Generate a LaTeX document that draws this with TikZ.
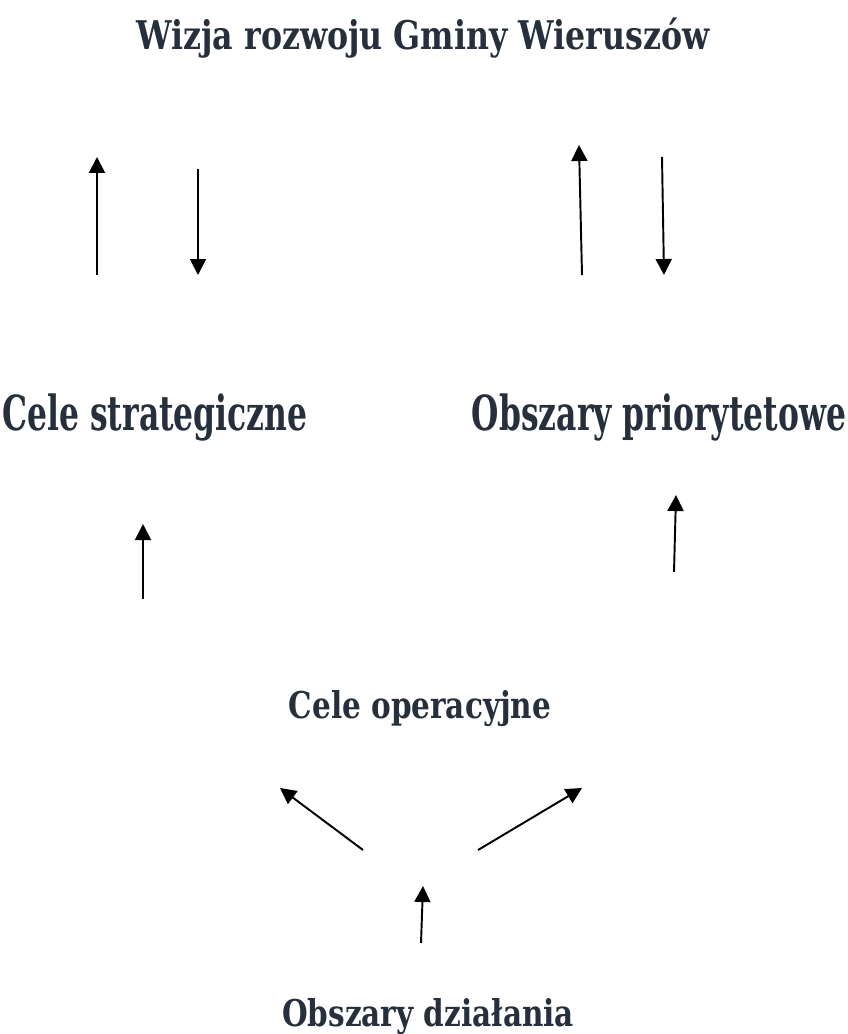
\documentclass[tikz,border=0pt]{standalone}
\usepackage{fontspec}
\usepackage{tikz}
\usetikzlibrary{positioning,arrows.meta}
\newfontfamily\wideserif[FakeStretch=0.8]{DejaVu Serif}
\newfontfamily\narrowserif[FakeStretch=0.65]{DejaVu Serif}
\definecolor{slatetext}{RGB}{38,48,60}

\begin{document}
\begin{tikzpicture}[x=0.02cm,y=-0.02cm,
	label/.style={text=slatetext,inner sep=0pt,anchor=base,font=\wideserif\bfseries\fontsize{21}{24}\selectfont},
	sidelabel/.style={label,font=\narrowserif\bfseries\fontsize{27.5}{30}\selectfont},
	link/.style={line width=1.1pt,-{Triangle[length=0.32cm,width=0.32cm]}}]
			\useasboundingbox (0,0) rectangle (848,1034);
			\node [label,font=\wideserif\bfseries\fontsize{22.5}{26}\selectfont] (vision) at (423,50) {Wizja rozwoju Gminy Wieruszów};
			\node [sidelabel] (strategic) at (155,430) {Cele strategiczne};
			\node [sidelabel] (priority) at (659,430) {Obszary priorytetowe};
			\node [label] (operational) at (420,718) {Cele operacyjne};
			\node [label] (action) at (428,1026) {Obszary działania};
			\coordinate (s1) at (97,275);   \coordinate (v1) at (97,157);
			\coordinate (v2) at (198,169);  \coordinate (s2) at (198,275);
			\coordinate (p1) at (582,275);  \coordinate (v3) at (579,145);
			\coordinate (v4) at (662,157);  \coordinate (p2) at (664,275);
			\coordinate (o1) at (143,599);  \coordinate (s3) at (143,524);
			\coordinate (o2) at (674,572);  \coordinate (p3) at (676,495);
			\coordinate (a1) at (363,850);  \coordinate (o3) at (280,788);
			\coordinate (a2) at (478,850);  \coordinate (o4) at (582,788);
			\coordinate (a3) at (421,943);  \coordinate (o5) at (423,886);
			\draw [link] (s1) -- (v1);
			\draw [link] (v2) -- (s2);
			\draw [link] (p1) -- (v3);
			\draw [link] (v4) -- (p2);
			\draw [link] (o1) -- (s3);
			\draw [link] (o2) -- (p3);
			\draw [link] (a1) -- (o3);
			\draw [link] (a2) -- (o4);
			\draw [link] (a3) -- (o5);
\end{tikzpicture}
\end{document}
